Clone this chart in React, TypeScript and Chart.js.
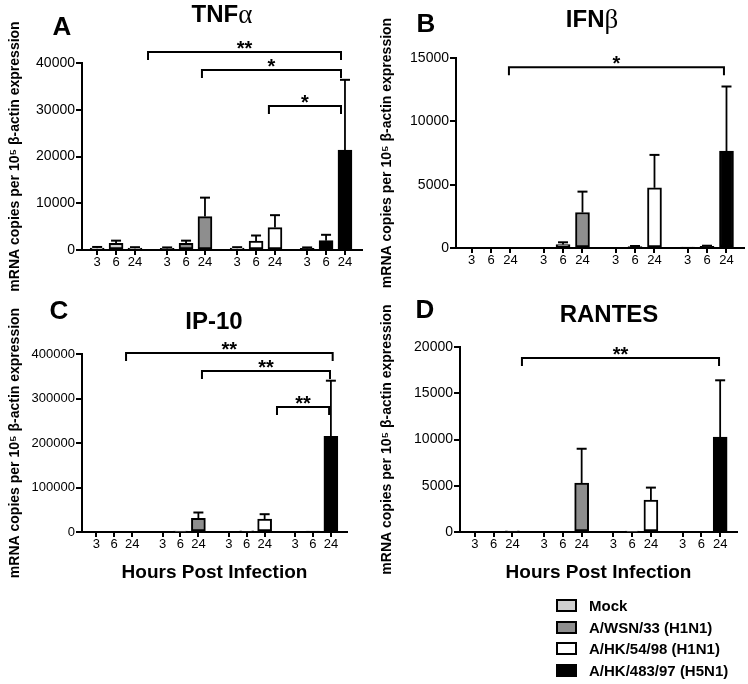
import React, { useEffect, useRef } from 'react';
import { Chart, registerables } from 'chart.js';

Chart.register(...registerables);

const FONT = '"Liberation Sans", Arial, Helvetica, sans-serif';
const GREEK_FONT = '"Liberation Serif", "DejaVu Serif", serif';

// ---------- categories / labels ----------
const seriesNames = ['Mock', 'A/WSN/33 (H1N1)', 'A/HK/54/98 (H1N1)', 'A/HK/483/97 (H5N1)'];
const seriesColors = ['#d0d0d0', '#8e8e8e', '#ffffff', '#000000'];
const hourLabels = ['3', '6', '24'];
const panelLetters = ['A', 'B', 'C', 'D'];
const panelTitles = ['TNFα', 'IFNβ', 'IP-10', 'RANTES'];
const yAxisTitle = 'mRNA copies per 10⁵ β-actin expression';
const xAxisTitle = 'Hours Post Infection';

// ---------- values: rows = series, cols = 3 h, 6 h, 24 h ----------
const tnfMean = [[400, 1450, 400], [350, 1450, 7150], [400, 1900, 4800], [350, 2000, 21400]];
const tnfErr = [[250, 550, 200], [200, 550, 4050], [200, 1200, 2650], [200, 1250, 15000]];
const ifnMean = [[0, 0, 0], [0, 270, 2800], [0, 120, 4750], [50, 140, 7650]];
const ifnErr = [[0, 0, 0], [0, 180, 1650], [0, 40, 2600], [0, 40, 5100]];
const ip10Mean = [[0, 0, 0], [0, 1500, 30500], [0, 2500, 29000], [0, 1500, 215000]];
const ip10Err = [[0, 0, 0], [0, 0, 13300], [0, 0, 11000], [0, 0, 125000]];
const rantesMean = [[0, 0, 120], [0, 0, 5300], [0, 80, 3450], [0, 0, 10250]];
const rantesErr = [[0, 0, 0], [0, 0, 3700], [0, 0, 1350], [0, 0, 6150]];

// ---------- y tick labels ----------
const tnfTicks = [0, 10000, 20000, 30000, 40000];
const ifnTicks = [0, 5000, 10000, 15000];
const ip10Ticks = [0, 100000, 200000, 300000, 400000];
const rantesTicks = [0, 5000, 10000, 15000, 20000];

// ---------- significance brackets (x in bar-slot units, level in data units) ----------
const tnfSig = [
  { from: 2.69, to: 12.89, level: 42350, label: '**' },
  { from: 5.54, to: 12.89, level: 38500, label: '*' },
  { from: 9.08, to: 12.89, level: 30800, label: '*' },
];
const ifnSig = [{ from: 1.92, to: 12.97, level: 14270, label: '*' }];
const ip10Sig = [
  { from: 1.66, to: 13.2, level: 402000, label: '**' },
  { from: 5.9, to: 13.05, level: 361800, label: '**' },
  { from: 10.09, to: 13.0, level: 280900, label: '**' },
];
const rantesSig = [{ from: 2.51, to: 13.04, level: 18810, label: '**' }];

// ---------- layout (not data) ----------
const GROUP_STEP = 3.7;
const X_MIN = -0.8;
const X_MAX = 14.0;
const CW = 374;
const CH = 300;

const panels = [
  { mean: tnfMean, err: tnfErr, ticks: tnfTicks, sig: tnfSig, left: 0, top: 0,
    area: { l: 82, r: 362, t: 63, b: 250 }, letterAt: [62, 28], titleAt: [222, 15], yTitlePad: 7, yTickSize: 14, showX: false },
  { mean: ifnMean, err: ifnErr, ticks: ifnTicks, sig: ifnSig, left: 374, top: 0,
    area: { l: 82, r: 370, t: 58, b: 248 }, letterAt: [52, 25], titleAt: [218, 20], yTitlePad: 5, yTickSize: 14, showX: false },
  { mean: ip10Mean, err: ip10Err, ticks: ip10Ticks, sig: ip10Sig, left: 0, top: 300,
    area: { l: 82, r: 347, t: 54, b: 232 }, letterAt: [59, 12], titleAt: [214, 22], yTitlePad: 7, yTickSize: 13, showX: true },
  { mean: rantesMean, err: rantesErr, ticks: rantesTicks, sig: rantesSig, left: 374, top: 300,
    area: { l: 86, r: 363, t: 47, b: 232 }, letterAt: [51, 11], titleAt: [235, 15], yTitlePad: 5, yTickSize: 14, showX: true },
];

const slotPositions: number[] = [];
seriesNames.forEach((_, g) => hourLabels.forEach((_h, i) => slotPositions.push(g * GROUP_STEP + i)));

function makeAnnotationPlugin(p: any, idx: number) {
  return {
    id: 'panelAnnotations' + idx,
    afterDatasetsDraw(chart: any) {
      const { ctx } = chart;
      const xs = chart.scales.x;
      const ys = chart.scales.y;
      ctx.save();
      ctx.strokeStyle = '#000';
      ctx.fillStyle = '#000';
      ctx.lineCap = 'butt';
      // error bars (upper only)
      chart.data.datasets.forEach((ds: any, di: number) => {
        const meta = chart.getDatasetMeta(di);
        meta.data.forEach((el: any, i: number) => {
          const e = ds.errors[i];
          if (!e) return;
          const v = ds.data[i].y;
          const topPx = ys.getPixelForValue(v + e);
          ctx.lineWidth = 1.8;
          ctx.beginPath();
          ctx.moveTo(el.x, el.y);
          ctx.lineTo(el.x, topPx);
          ctx.stroke();
          ctx.lineWidth = 2;
          ctx.beginPath();
          ctx.moveTo(el.x - 5, topPx);
          ctx.lineTo(el.x + 5, topPx);
          ctx.stroke();
        });
      });
      // significance brackets
      ctx.lineWidth = 2;
      p.sig.forEach((b: any) => {
        const x1 = xs.getPixelForValue(b.from);
        const x2 = xs.getPixelForValue(b.to);
        const yy = ys.getPixelForValue(b.level);
        ctx.beginPath();
        ctx.moveTo(x1, yy + 8);
        ctx.lineTo(x1, yy);
        ctx.lineTo(x2, yy);
        ctx.lineTo(x2, yy + 8);
        ctx.stroke();
        ctx.font = `bold 20px ${FONT}`;
        ctx.textAlign = 'center';
        ctx.textBaseline = 'alphabetic';
        ctx.fillText(b.label, (x1 + x2) / 2, yy + 3);
      });
      // panel letter
      ctx.font = `bold 26px ${FONT}`;
      ctx.textAlign = 'center';
      ctx.textBaseline = 'middle';
      ctx.fillText(panelLetters[idx], p.letterAt[0], p.letterAt[1]);
      // panel title (greek suffix in serif)
      const title = panelTitles[idx];
      const m = title.match(/^(.*?)([α-ω]?)$/);
      const base = m ? m[1] : title;
      const greek = m ? m[2] : '';
      const baseFont = `bold 24px ${FONT}`;
      const greekFont = `27px ${GREEK_FONT}`;
      ctx.font = baseFont;
      const wb = ctx.measureText(base).width;
      ctx.font = greekFont;
      const wg = greek ? ctx.measureText(greek).width : 0;
      const sx = p.titleAt[0] - (wb + wg) / 2;
      ctx.textAlign = 'left';
      ctx.font = baseFont;
      ctx.fillText(base, sx, p.titleAt[1]);
      if (greek) {
        ctx.font = greekFont;
        ctx.fillText(greek, sx + wb, p.titleAt[1] + 1);
      }
      ctx.restore();
    },
  };
}

function buildConfig(p: any, idx: number) {
  const datasets = seriesNames.map((name, g) => ({
    label: name,
    data: hourLabels.map((_h, i) => ({ x: g * GROUP_STEP + i, y: p.mean[g][i] })),
    errors: p.err[g],
    backgroundColor: seriesColors[g],
    borderColor: '#000',
    borderWidth: 2,
    borderSkipped: false,
    barThickness: 14,
    grouped: false,
  }));
  const axisCommon = {
    border: { display: true, color: '#000', width: 2 },
    grid: { display: true, drawOnChartArea: false, drawTicks: true, tickLength: 5, lineWidth: 2, tickWidth: 2, tickColor: '#000', color: '#000', offset: false },
  };
  return {
    type: 'bar',
    data: { datasets },
    plugins: [makeAnnotationPlugin(p, idx)],
    options: {
      responsive: false,
      animation: false,
      events: [],
      layout: { padding: { left: 0, top: p.area.t, right: CW - p.area.r, bottom: 0 } },
      plugins: { legend: { display: false }, tooltip: { enabled: false }, title: { display: false } },
      scales: {
        x: {
          type: 'linear',
          min: X_MIN,
          max: X_MAX,
          offset: false,
          ...axisCommon,
          afterBuildTicks: (s: any) => { s.ticks = slotPositions.map((v) => ({ value: v })); },
          afterFit: (s: any) => { s.height = CH - p.area.b; },
          ticks: {
            autoSkip: false,
            maxRotation: 0,
            minRotation: 0,
            padding: 0,
            color: '#000',
            font: { family: FONT, size: 13 },
            callback: (_v: any, i: number) => hourLabels[i % hourLabels.length],
          },
          title: {
            display: p.showX,
            text: xAxisTitle,
            color: '#000',
            font: { family: FONT, size: 19, weight: 'bold' },
            padding: { top: 0, bottom: 16 },
          },
        },
        y: {
          type: 'linear',
          min: p.ticks[0],
          max: p.ticks[p.ticks.length - 1],
          ...axisCommon,
          grid: { ...axisCommon.grid, tickLength: 6 },
          afterBuildTicks: (s: any) => { s.ticks = p.ticks.map((v: number) => ({ value: v })); },
          afterFit: (s: any) => { s.width = p.area.l; },
          ticks: {
            padding: 1,
            color: '#000',
            font: { family: FONT, size: p.yTickSize },
            callback: (v: any) => String(v),
          },
          title: {
            display: true,
            text: yAxisTitle,
            color: '#000',
            font: { family: FONT, size: 14, weight: 'bold' },
            padding: { top: p.yTitlePad, bottom: 0 },
          },
        },
      },
    },
  };
}

export default function App() {
  const canvasRefs = useRef<(HTMLCanvasElement | null)[]>([]);
  useEffect(() => {
    const charts = panels.map((p, i) => new Chart(canvasRefs.current[i] as HTMLCanvasElement, buildConfig(p, i) as any));
    return () => charts.forEach((c) => c.destroy());
  }, []);
  return (
    <div style={{ position: 'absolute', left: 0, top: 0, width: 748, height: 684, background: '#fff', overflow: 'hidden' }}>
      {panels.map((p, i) => (
        <canvas
          key={i}
          ref={(el) => { canvasRefs.current[i] = el; }}
          width={CW}
          height={CH}
          style={{ position: 'absolute', left: p.left, top: p.top, width: CW, height: CH }}
        />
      ))}
      <div style={{ position: 'absolute', left: 556, top: 595, font: `bold 15px ${FONT}`, color: '#000' }}>
        {seriesNames.map((n, i) => (
          <div key={n} style={{ display: 'flex', alignItems: 'center', height: 21.5 }}>
            <span style={{ display: 'inline-block', width: 21, height: 13, boxSizing: 'border-box', border: '2px solid #000', background: seriesColors[i] }} />
            <span style={{ marginLeft: 12, whiteSpace: 'nowrap' }}>{n}</span>
          </div>
        ))}
      </div>
    </div>
  );
}
